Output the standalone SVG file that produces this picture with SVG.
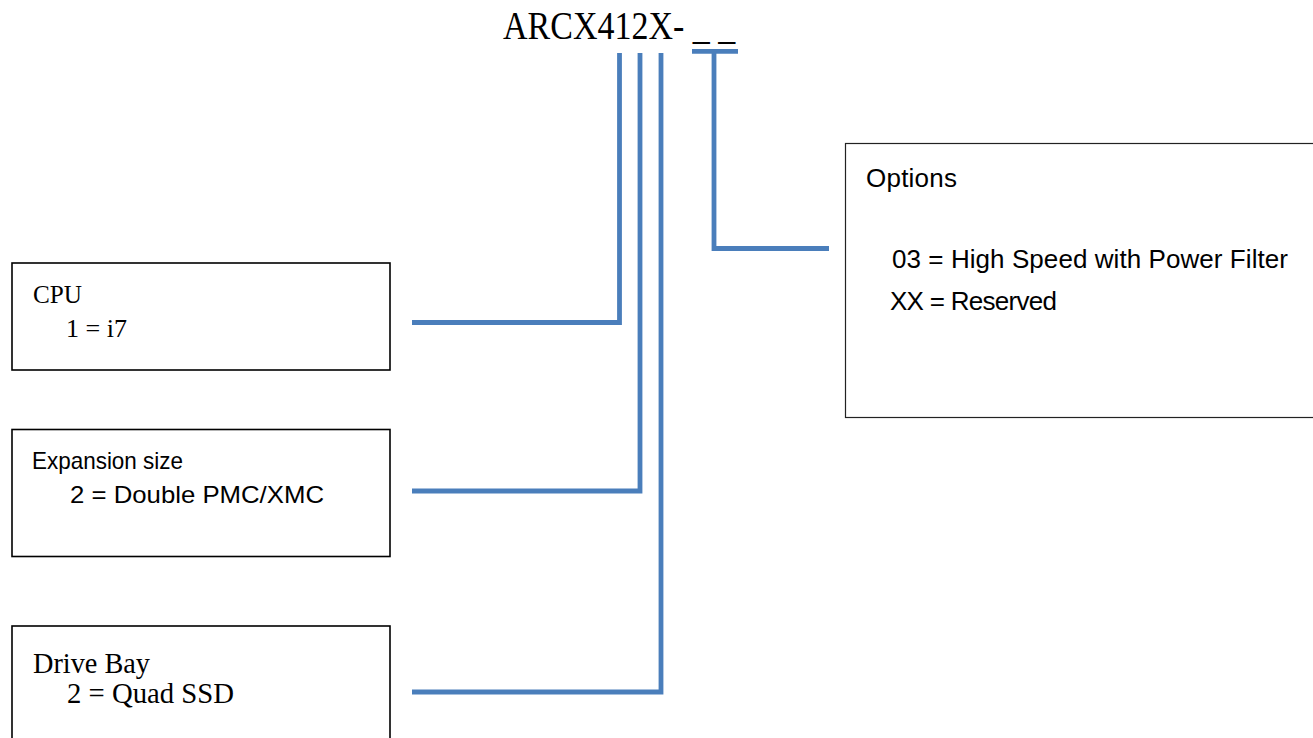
<svg xmlns="http://www.w3.org/2000/svg" width="1313" height="738" viewBox="0 0 1313 738">
<style>
.serif{font-family:"Liberation Serif","Times New Roman",serif;fill:#000}
.sans{font-family:"Liberation Sans",Arial,sans-serif;fill:#000}
.box{fill:#fff;stroke:#000;stroke-width:1.6}
.conn{fill:none;stroke:#4a7ebb;stroke-width:4.8;stroke-linejoin:miter;stroke-linecap:butt}
</style>
<rect width="1313" height="738" fill="#fff"/>
<g id="title">
<text class="serif" transform="translate(503,39) scale(1,1.15)" x="0" y="0" font-size="34" xml:space="preserve">ARCX412X- _ _</text>
</g>
<g id="connectors">
<path class="conn" d="M619.5,53 V322.5 H412"/>
<path class="conn" d="M640,53 V491 H412"/>
<path class="conn" d="M661,53 V692 H412"/>
<path class="conn" d="M692,51.3 H738"/>
<path class="conn" d="M714,51 V248.5 H829"/>
</g>
<g id="node-cpu">
<rect class="box" x="12" y="263" width="378" height="107"/>
<text class="serif" x="33" y="303" font-size="26" textLength="49" lengthAdjust="spacingAndGlyphs">CPU</text>
<text class="serif" x="66" y="337" font-size="26" textLength="61" lengthAdjust="spacingAndGlyphs">1 = i7</text>
</g>
<g id="node-expansion">
<rect class="box" x="12" y="429.5" width="378" height="127"/>
<text class="sans" x="32" y="469" font-size="24" textLength="151" lengthAdjust="spacingAndGlyphs">Expansion size</text>
<text class="sans" x="70" y="503" font-size="24" textLength="254" lengthAdjust="spacingAndGlyphs">2 = Double PMC/XMC</text>
</g>
<g id="node-drive">
<rect class="box" x="12" y="626" width="378" height="130"/>
<text class="serif" x="33" y="673" font-size="30" textLength="117" lengthAdjust="spacingAndGlyphs">Drive Bay</text>
<text class="serif" x="67" y="703" font-size="30" textLength="167" lengthAdjust="spacingAndGlyphs">2 = Quad SSD</text>
</g>
<g id="node-options">
<rect x="845.5" y="143.5" width="480" height="274" fill="#fff" stroke="#222" stroke-width="1.2"/>
<text class="sans" x="866" y="187" font-size="26" textLength="91">Options</text>
<text class="sans" x="892" y="268" font-size="26" textLength="396">03 = High Speed with Power Filter</text>
<text class="sans" x="890" y="310" font-size="26" textLength="167">XX = Reserved</text>
</g>
</svg>
